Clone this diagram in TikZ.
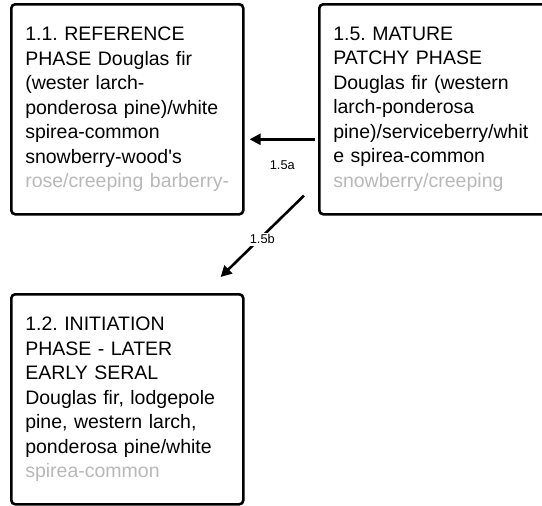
\documentclass[tikz,border=0pt]{standalone}
\usepackage{fontspec}
\setmainfont{Liberation Sans}
\usetikzlibrary{arrows.meta}
\frenchspacing
\tikzset{
	phase/.style = {draw, line width=2.6pt, rounded corners=4pt, anchor=north west,
		minimum width=232pt, minimum height=210pt, text width=204pt, align=left,
		font=\fontsize{19.5}{24.5}\selectfont},
	trans/.style = {line width=2.6pt, -{Triangle[length=11pt,width=11pt]}},
	translabel/.style = {font=\fontsize{12.8}{15}\selectfont, fill=white, inner sep=1.5pt}
}
\newcommand{\fadeline}[1]{\textcolor{black!28}{#1}}
\begin{document}
\begin{tikzpicture}[x = 1pt, y = 1pt]
		\clip (0,0) rectangle (542,-506);
		\node [phase] (ref) at (10,-3) {1.1. REFERENCE\\PHASE Douglas fir\\(wester larch-\\ponderosa pine)/white\\spirea-common\\snowberry-wood\textquotesingle s\\\fadeline{rose/creeping barberry-}};
		\node [phase] (mature) at (318,-3) {1.5. MATURE\\PATCHY PHASE\\Douglas fir (western\\larch-ponderosa\\pine)/serviceberry/whit\\e spirea-common\\\fadeline{snowberry/creeping}};
		\node [phase] (init) at (10,-293) {1.2. INITIATION\\PHASE - LATER\\EARLY SERAL\\Douglas fir, lodgepole\\pine, western larch,\\ponderosa pine/white\\\fadeline{spirea-common}};
		\draw [trans] ([xshift=-3pt,yshift=-30pt]mature.west) -- ([xshift=5pt,yshift=-30pt]ref.east)
			node [translabel, midway, below=19pt] {1.5a};
		\draw [trans] ([xshift=-14pt,yshift=20pt]mature.south west) -- ([xshift=-24pt,yshift=16pt]init.north east)
			node [translabel, midway, yshift=-3pt] {1.5b};
	\end{tikzpicture}
\end{document}
